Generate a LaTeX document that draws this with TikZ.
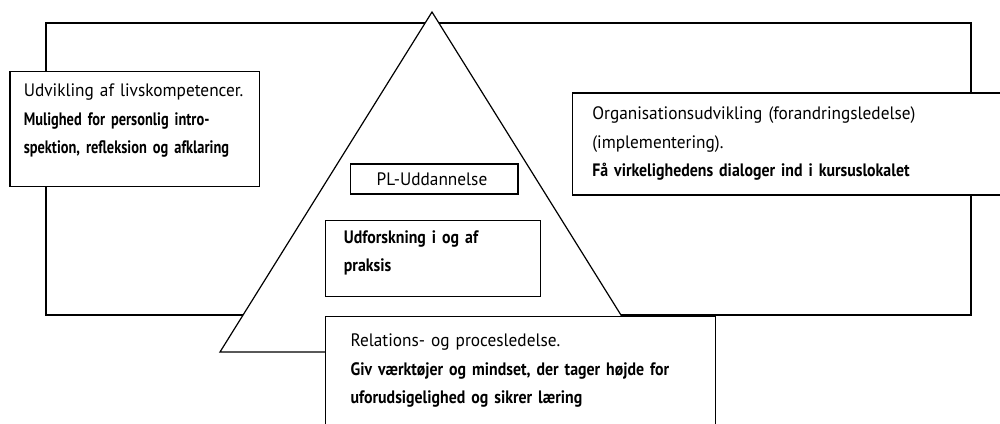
\documentclass[tikz,border=0pt]{standalone}
\usepackage{fontspec}
\setmainfont{PT Sans}[FakeStretch=0.96, BoldFeatures={FakeStretch=0.88}]
\newfontfamily\tightfam{PT Sans}[FakeStretch=0.96, BoldFeatures={FakeStretch=0.8, WordSpace=0.5}]

\begin{document}
\begin{tikzpicture}[x=1pt, y=-1pt,
    frame/.style={draw, line width=1.2pt},
    box/.style={rectangle, draw, line width=1.2pt, fill=white, anchor=north west,
        align=left, inner ysep=0pt, font=\fontsize{18}{28.5}\selectfont}]
\useasboundingbox (0,0) rectangle (1000,423);

\begin{scope}
\clip (0,0) rectangle (1000,423);

% outer frame and triangle
\draw[frame] (46,23) rectangle (971,315);
\coordinate (apex) at (432,12);
\coordinate (left) at (220,352);
\coordinate (right) at (644,352);
\draw[frame, fill=white] (apex) -- (left) -- (right) -- cycle;

% text boxes
\node[box, inner xsep=13.85pt, text width=222pt, minimum height=115pt] (livs) at (9.3,70.7)
    {Udvikling af livskompetencer.\\
     {\tightfam\bfseries Mulighed for personlig intro-}\\
     {\tightfam\bfseries spektion, refleksion og afklaring}\rule[-20pt]{0pt}{20pt}};
\node[box, inner xsep=26pt, text width=115.3pt, minimum height=30pt] (pl) at (350,163.3)
    {PL-Uddannelse};
\node[box, inner xsep=18.3pt, text width=178.4pt, minimum height=75.7pt] (prax) at (325,220)
    {\textbf{Udforskning i og af}\\
     \textbf{praksis}\rule[-15pt]{0pt}{15pt}};
\node[box, inner xsep=20pt, text width=400pt, minimum height=102pt] (org) at (571.7,92.3)
    {Organisationsudvikling (forandringsledelse)\\
     (implementering).\\
     \textbf{Få virkelighedens dialoger ind i kursuslokalet}};
\node[box, inner xsep=25pt, text width=340pt, minimum height=109pt] (rel) at (325,315.7)
    {Relations- og procesledelse.\\
     \textbf{Giv værktøjer og mindset, der tager højde for}\\
     \textbf{uforudsigelighed og sikrer læring}};
\end{scope}
\end{tikzpicture}
\end{document}
